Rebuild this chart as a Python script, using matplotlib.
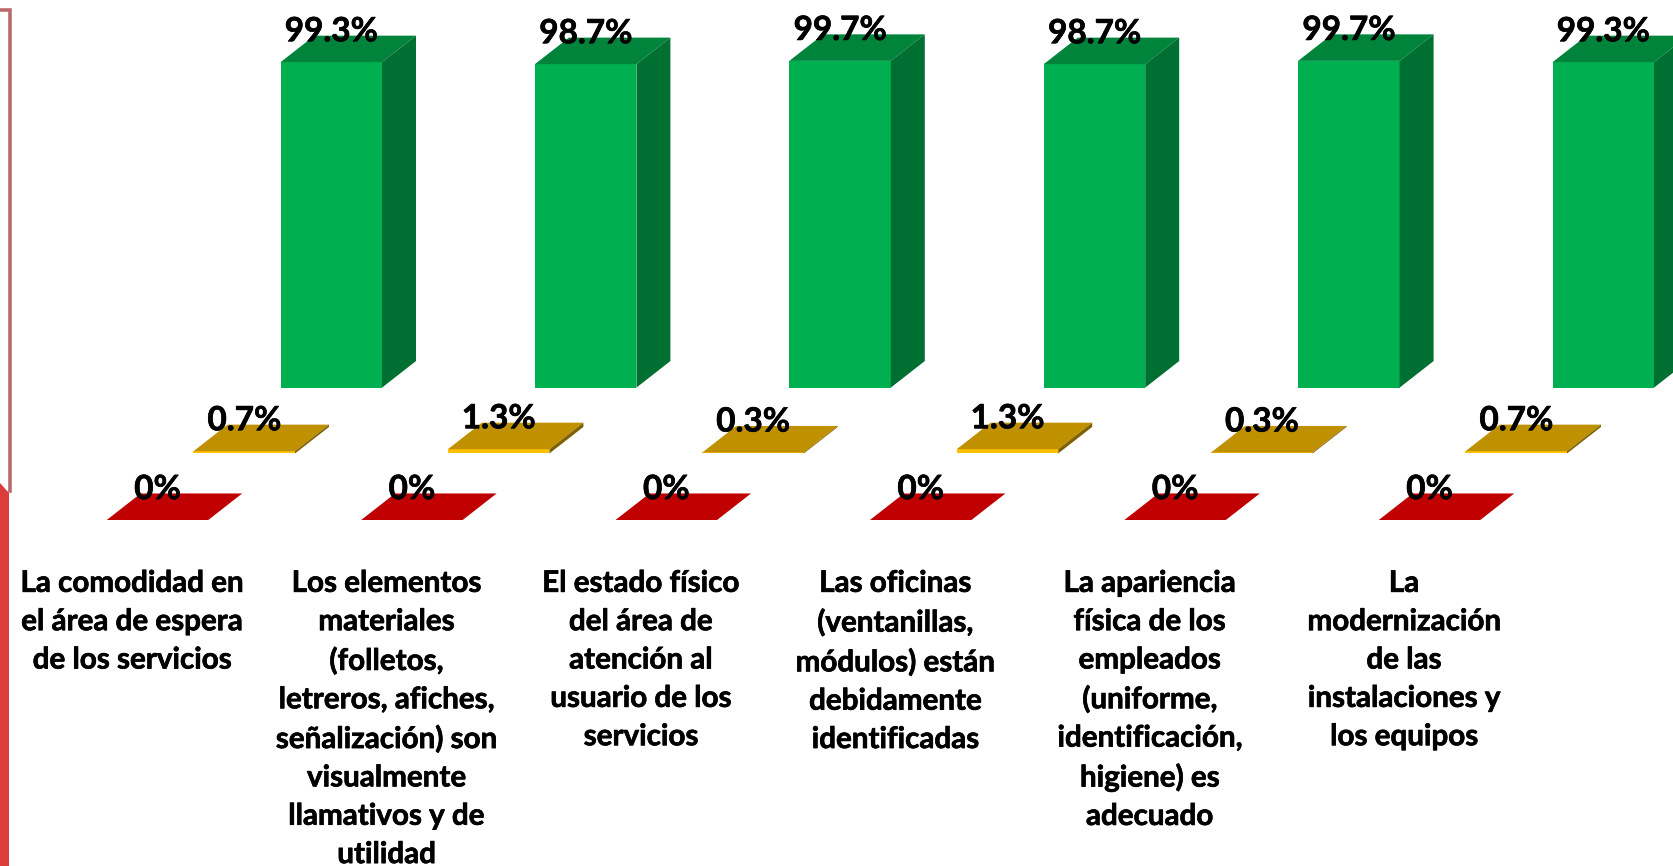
import matplotlib
matplotlib.use('Agg')
import matplotlib.pyplot as plt
import matplotlib.patheffects as pe
from matplotlib.lines import Line2D
from matplotlib.patches import Polygon

plt.rcParams['font.family'] = ['Lato', 'DejaVu Sans']

categories = [
    'La comodidad en\nel área de espera\nde los servicios',
    'Los elementos\nmateriales\n(folletos,\nletreros, afiches,\nseñalización) son\nvisualmente\nllamativos y de\nutilidad',
    'El estado físico\ndel área de\natención al\nusuario de los\nservicios',
    'Las oficinas\n(ventanillas,\nmódulos) están\ndebidamente\nidentificadas',
    'La apariencia\nfísica de los\nempleados\n(uniforme,\nidentificación,\nhigiene) es\nadecuado',
    'La\nmodernización\nde las\ninstalaciones y\nlos equipos',
]
red_values = [0, 0, 0, 0, 0, 0]
gold_values = [0.7, 1.3, 0.3, 1.3, 0.3, 0.7]
green_values = [99.3, 98.7, 99.7, 98.7, 99.7, 99.3]

W, H = 1673, 866
cat_px = 254.4      # pixels per category
pct_px = 3.277      # pixels per percent
x0_px, y0_px = 157.5, 520.0
bar_w = 0.399
depth_x, depth_y = 0.1336, 8.1

fig = plt.figure(figsize=(W / 100, H / 100), dpi=100, facecolor='white')
ax = fig.add_axes([0, 0, 1, 1])
ax.set_xlim(-x0_px / cat_px, (W - x0_px) / cat_px)
ax.set_ylim(-(H - y0_px) / pct_px, y0_px / pct_px)
ax.axis('off')

# make the bold text as heavy as in the reference
heavy = [pe.withStroke(linewidth=0.5, foreground='black')]


def draw_series(values, x_off, base, front, top, side):
    for i, v in enumerate(values):
        x = i + x_off
        l, r = x - bar_w / 2, x + bar_w / 2
        t = base + v
        ax.bar(x, v, bottom=base, width=bar_w, color=front, linewidth=0)
        ax.add_patch(Polygon([(l, t), (r, t), (r + depth_x, t + depth_y), (l + depth_x, t + depth_y)],
                             facecolor=top, edgecolor='none'))
        ax.add_patch(Polygon([(r, base), (r + depth_x, base + depth_y), (r + depth_x, t + depth_y), (r, t)],
                             facecolor=side, edgecolor='none'))
        ax.text(x, t + 9.3, f'{v:g}%', ha='center', va='center', fontsize=24, fontweight='bold',
                color='black', zorder=5, path_effects=heavy)


draw_series(red_values, 0, 0, '#C00000', '#C00000', '#900000')
draw_series(gold_values, 0.341, 20.3, '#FFC000', '#BF9000', '#7F6000')
draw_series(green_values, 0.683, 40.4, '#00B050', '#00843C', '#006F32')

for i, name in enumerate(categories):
    ax.text(i - 0.1, -14.9, name, ha='center', va='top', fontsize=21.3, fontweight='bold',
            color='black', linespacing=1.45, path_effects=heavy)

# red frame on the left edge of the slide
fig.add_artist(Line2D([0, 9.5 / W, 9.5 / W], [1 - 9.5 / H, 1 - 9.5 / H, 1 - 491 / H], transform=fig.transFigure,
                      color='#B86A6A', linewidth=2.6, solid_joinstyle='miter'))
fig.add_artist(Polygon([(0, 1 - 483 / H), (9 / W, 1 - 493 / H), (9 / W, 0), (0, 0)], transform=fig.transFigure,
                       facecolor='#DC3C3C', edgecolor='none'))

fig.savefig('out.png', dpi=100)
